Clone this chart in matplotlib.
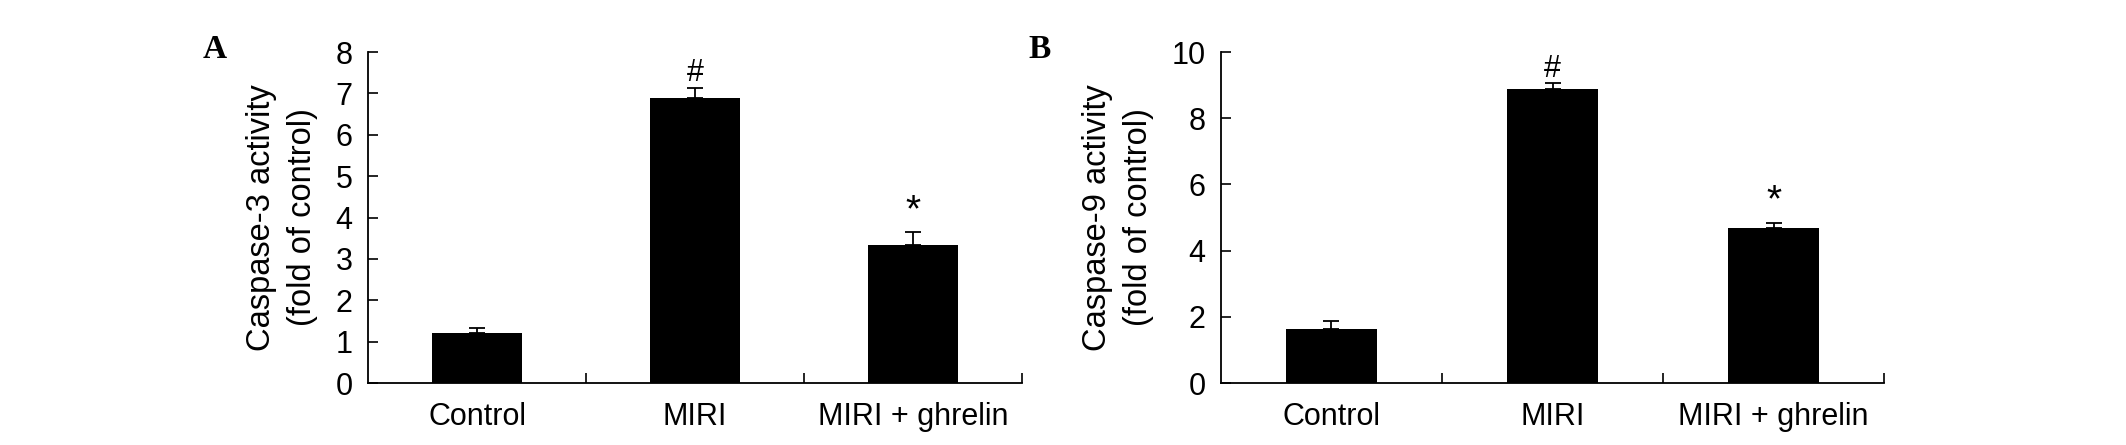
import numpy as np
import matplotlib
matplotlib.use("Agg")
import matplotlib.pyplot as plt

plt.rcParams["font.family"] = ["Liberation Sans", "DejaVu Sans"]

groups = ["Control", "MIRI", "MIRI + ghrelin"]

# Panel A - caspase-3
casp3_mean = [1.20, 6.88, 3.33]
casp3_err = [0.13, 0.26, 0.32]
casp3_marks = ["", "#", "*"]

# Panel B - caspase-9
casp9_mean = [1.64, 8.89, 4.67]
casp9_err = [0.23, 0.16, 0.17]
casp9_marks = ["", "#", "*"]

fig = plt.figure(figsize=(21.26, 4.45), dpi=100)

# size / offset (points) for the significance marks
mark_style = {"#": (22, 5), "*": (28, 8)}


def draw_panel(ax, means, errs, marks, ymax, ystep, ylabel):
    x = np.arange(len(groups))
    ax.bar(x, means, width=0.41, color="black", zorder=2)
    ax.errorbar(x, means, yerr=[np.zeros(len(errs)), errs], fmt="none",
                ecolor="black", elinewidth=1.3, capsize=6, capthick=1.3, zorder=3)
    for xi, m, e, s in zip(x, means, errs, marks):
        if s:
            size, off = mark_style[s]
            ax.annotate(s, (xi, m + e), xytext=(0, off), textcoords="offset points",
                        ha="center", va="baseline", fontsize=size)

    ax.set_xlim(-0.5, len(groups) - 0.5)
    ax.set_ylim(0, ymax)
    ax.set_yticks(np.arange(0, ymax + 0.01, ystep))
    ax.set_xticks(x)
    ax.set_xticklabels(groups)
    ax.set_xticks(np.arange(0.5, len(groups), 1.0), minor=True)

    ax.tick_params(axis="y", direction="in", length=7, width=1.2, pad=11, labelsize=22)
    ax.tick_params(axis="x", which="major", length=0, pad=14, labelsize=22)
    ax.tick_params(axis="x", which="minor", direction="in", length=7, width=1.2)

    for side in ["top", "right"]:
        ax.spines[side].set_visible(False)
    for side in ["left", "bottom"]:
        ax.spines[side].set_linewidth(1.3)

    ax.set_ylabel(ylabel, fontsize=23.5, linespacing=1.4, labelpad=13)


axA = fig.add_axes([0.1731, 0.1393, 0.3076, 0.7438])
draw_panel(axA, casp3_mean, casp3_err, casp3_marks, 8, 1,
           "Caspase-3 activity\n(fold of control)")

axB = fig.add_axes([0.5743, 0.1393, 0.3119, 0.7438])
draw_panel(axB, casp9_mean, casp9_err, casp9_marks, 10, 2,
           "Caspase-9 activity\n(fold of control)")

fig.text(215 / 2126, 1 - 49 / 445, "A", fontsize=24, fontweight="bold",
         family="Liberation Serif", ha="center", va="center")
fig.text(1040 / 2126, 1 - 49 / 445, "B", fontsize=24, fontweight="bold",
         family="Liberation Serif", ha="center", va="center")

fig.savefig("out.png", dpi=100)
